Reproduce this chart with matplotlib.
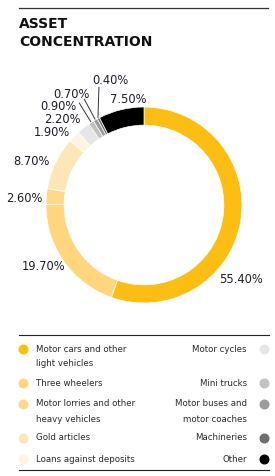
import numpy as np
import matplotlib.pyplot as plt

plt.rcParams['font.family'] = ['DejaVu Sans']

# data
categories = ['Motor cars and other\nlight vehicles', 'Three wheelers',
              'Motor lorries and other\nheavy vehicles', 'Gold articles',
              'Loans against deposits', 'Motor cycles', 'Mini trucks',
              'Motor buses and\nmotor coaches', 'Machineries', 'Other']
shares = [55.40, 19.70, 2.60, 8.70, 1.90, 2.20, 0.90, 0.70, 0.40, 7.50]
colors = ['#FDBE14', '#FFD67E', '#FFD98B', '#FFE6B6', '#FFF4E2',
          '#E6E6E8', '#C2C2C4', '#9C9C9E', '#6E6E70', '#000000']

# label positions (data units, ring radius = 1)
label_pos = [(0.99, -0.76), (-1.02, -0.63), (-1.22, 0.07), (-1.15, 0.44),
             (-0.94, 0.74), (-0.83, 0.87), (-0.87, 1.0), (-0.74, 1.13),
             (-0.34, 1.27), (-0.16, 1.08)]
leader_ends = {6: (-0.66, 1.04), 7: (-0.61, 1.08), 8: (-0.46, 1.20)}

W, H = 275, 476
cx, cy, R = 144, 205, 98
txt = '#1d1d2b'

fig = plt.figure(figsize=(W / 100, H / 100), dpi=100)
ax = fig.add_axes([0, 0, 1, 1])
ax.pie(shares, colors=colors, startangle=90, counterclock=False, radius=1,
       wedgeprops=dict(width=0.185, edgecolor='white', linewidth=0.5))
ax.set_xlim(-cx / R, (W - cx) / R)
ax.set_ylim(-(H - cy) / R, cy / R)
ax.set_aspect('auto')
ax.axis('off')

for i, (v, (lx, ly)) in enumerate(zip(shares, label_pos)):
    ax.text(lx, ly, f'{v:.2f}%', ha='center', va='center', fontsize=8.3, color=txt)

# leader lines for the tiny slices
cum = np.cumsum([0] + shares)
for i, (ex, ey) in leader_ends.items():
    mid = np.deg2rad(90 - 3.6 * (cum[i] + cum[i + 1]) / 2)
    ax.plot([ex, 1.01 * np.cos(mid)], [ey, 1.01 * np.sin(mid)],
            color='#333333', lw=0.7)


def fx(px):
    return px / W


def fy(py):
    return 1 - py / H


# title and rules
fig.add_artist(plt.Line2D([fx(19), fx(268)], [fy(8), fy(8)], color='#333333', lw=0.9))
fig.text(fx(19), fy(24), 'ASSET', fontsize=10, fontweight='bold', va='center', color='#111111')
fig.text(fx(19), fy(42), 'CONCENTRATION', fontsize=10, fontweight='bold', va='center', color='#111111')
fig.add_artist(plt.Line2D([fx(19), fx(269)], [fy(335), fy(335)], color='#222222', lw=0.8))
fig.add_artist(plt.Line2D([fx(19), fx(269)], [fy(470), fy(470)], color='#222222', lw=0.8))

# legend
row_y = [349, 383, 404, 438, 459]
for k in range(10):
    left = k < 5
    y = row_y[k % 5]
    dot_x = 23 if left else 264
    fig.add_artist(plt.Line2D([fx(dot_x)], [fy(y)], marker='o', markersize=6.2,
                              color=colors[k], lw=0))
    for j, line in enumerate(categories[k].split('\n')):
        fig.text(fx(36 if left else 247), fy(y + 15 * j), line, fontsize=6.2,
                 ha='left' if left else 'right', va='center', color='#2a2a2a')

fig.savefig('out.png', dpi=100)
